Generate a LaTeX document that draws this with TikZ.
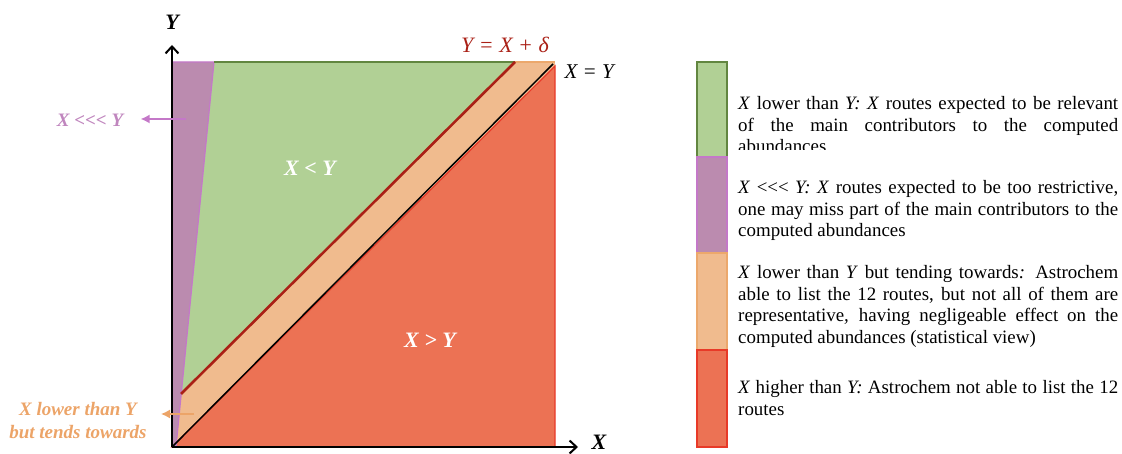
\documentclass[tikz,border=0pt]{standalone}
\usepackage{fontspec}
\setmainfont{Liberation Serif}
\usetikzlibrary{positioning,calc,arrows.meta}
\definecolor{greenfill}{RGB}{177,208,149}
\definecolor{greenedge}{RGB}{98,134,64}
\definecolor{purplefill}{RGB}{187,139,175}
\definecolor{purpleedge}{RGB}{196,120,200}
\definecolor{orangefill}{RGB}{240,187,142}
\definecolor{orangeedge}{RGB}{236,168,108}
\definecolor{redfill}{RGB}{236,114,84}
\definecolor{rededge}{RGB}{232,58,40}
\definecolor{deltared}{RGB}{170,32,22}
\definecolor{purpletext}{RGB}{192,134,190}
\definecolor{orangetext}{RGB}{236,164,104}

\begin{document}
\begin{tikzpicture}[x=1pt,y=1pt]
    \def\xl{172}
    \def\xr{555}
    \def\yb{7}
    \def\yt{392}
    \def\legw{380pt}
    \def\lll{<{}<{}<}
    \tikzset{
        axis/.style={line width=2.2pt, -{Straight Barb[length=7pt,width=13pt,line width=2pt]}},
        bar/.style={line width=1.5pt},
        pinarrow/.style={line width=1.4pt, -{Latex[length=9pt,width=9pt]}},
        legtext/.style={anchor=north west, inner sep=0pt, text width=\legw, align=justify,
            font=\fontsize{18.9}{21.7}\selectfont},
        zone/.style={font=\fontsize{22}{26}\selectfont\bfseries\itshape, text=white},
        sidelabel/.style={font=\fontsize{19}{23}\selectfont\bfseries\itshape, align=center}
    }
    \useasboundingbox (0,0) rectangle (1122,454);
    % Regions of the square
    \fill[orangefill] (\xl,\yb) rectangle (\xr,\yt);
    \filldraw[fill=redfill, draw=rededge, line width=1.2pt] (\xl,\yb) -- (\xr,\yb) -- (\xr,388) -- cycle;
    \fill[greenfill] (214,\yt) -- (515,\yt) -- (181,60) -- cycle;
    \filldraw[fill=purplefill, draw=purpleedge, line width=1.2pt] (\xl,\yt) -- (214,\yt) -- (176,\yb) -- (\xl,\yb) -- cycle;
    \draw[greenedge, line width=1.8pt] (214,\yt) -- (515,\yt);
    \draw[orangeedge, line width=1.8pt] (515,\yt) -- (\xr,\yt);
    % Boundary lines
    \draw[deltared, line width=2.6pt] (181,60) -- (515,\yt);
    \draw[black, line width=1.5pt] (\xl,\yb) -- (553,390);
    % Axes
    \coordinate (orig) at (\xl,\yb);
    \coordinate (ytip) at (\xl,409);
    \coordinate (xtip) at (578,\yb);
    \draw[axis] (orig) -- (ytip);
    \draw[axis] (orig) -- (xtip);
    \node[font=\fontsize{22}{26}\selectfont\bfseries\itshape] (ylab) at (\xl,432) {Y};
    \node[font=\fontsize{22}{26}\selectfont\bfseries\itshape] (xlab) at (599,12) {X};
    % Line labels
    \node[font=\fontsize{22}{26}\selectfont\itshape, text=deltared] (deltalab) at (505,409) {Y = X + δ};
    \node[font=\fontsize{21}{25}\selectfont\itshape, anchor=west] (diaglab) at (561,382) {X = Y};
    % Zone labels
    \node[zone] (ltlab) at (310,286) {X < Y};
    \node[zone] (gtlab) at (430,114) {X > Y};
    % Side labels with arrows
    \node[sidelabel, text=purpletext] (farlab) at (90,334) {X \lll\ Y};
    \coordinate (farpin) at (186,335);
    \draw[pinarrow, purpleedge] (farpin) -- ($(farlab.east)+(14,1)$);
    \node[sidelabel, text=orangetext] (nearlab) at (78,33) {X lower than Y\\but tends towards};
    \coordinate (nearpin) at (194,40);
    \draw[pinarrow, orangetext] (nearpin) -- (161,40);
    % Legend bars
    \filldraw[bar, fill=greenfill, draw=greenedge] (697,297) rectangle (727,392);
    \filldraw[bar, fill=purplefill, draw=purpleedge] (697,201) rectangle (727,297);
    \filldraw[bar, fill=orangefill, draw=orangeedge] (697,104) rectangle (727,201);
    \filldraw[bar, fill=redfill, draw=rededge] (697,7) rectangle (727,104);
    % Legend texts
    \begin{scope}
        \clip (730,304) rectangle (1122,400);
        \node[legtext] (greentext) at (738,357.8) {\textit{X} lower than \textit{Y:} \textit{X} routes expected to be relevant\linebreak of the main contributors to the computed\linebreak abundances};
    \end{scope}
    \node[legtext] (purpletext) at (738,273.8) {\textit{X} \lll\ \textit{Y:} \textit{X} routes expected to be too restrictive,\linebreak one may miss part of the main contributors to the\linebreak computed abundances};
    \node[legtext] (orangetext) at (738,188.8) {\textit{X} lower than \textit{Y} but tending towards\textit{:} Astrochem\linebreak able to list the 12 routes, but not all of them are\linebreak representative\textit{,} having negligeable effect on the\linebreak computed abundances (statistical view)};
    \node[legtext] (redtext) at (738,73.8) {\textit{X} higher than \textit{Y:} Astrochem not able to list the 12\linebreak routes};
\end{tikzpicture}
\end{document}
